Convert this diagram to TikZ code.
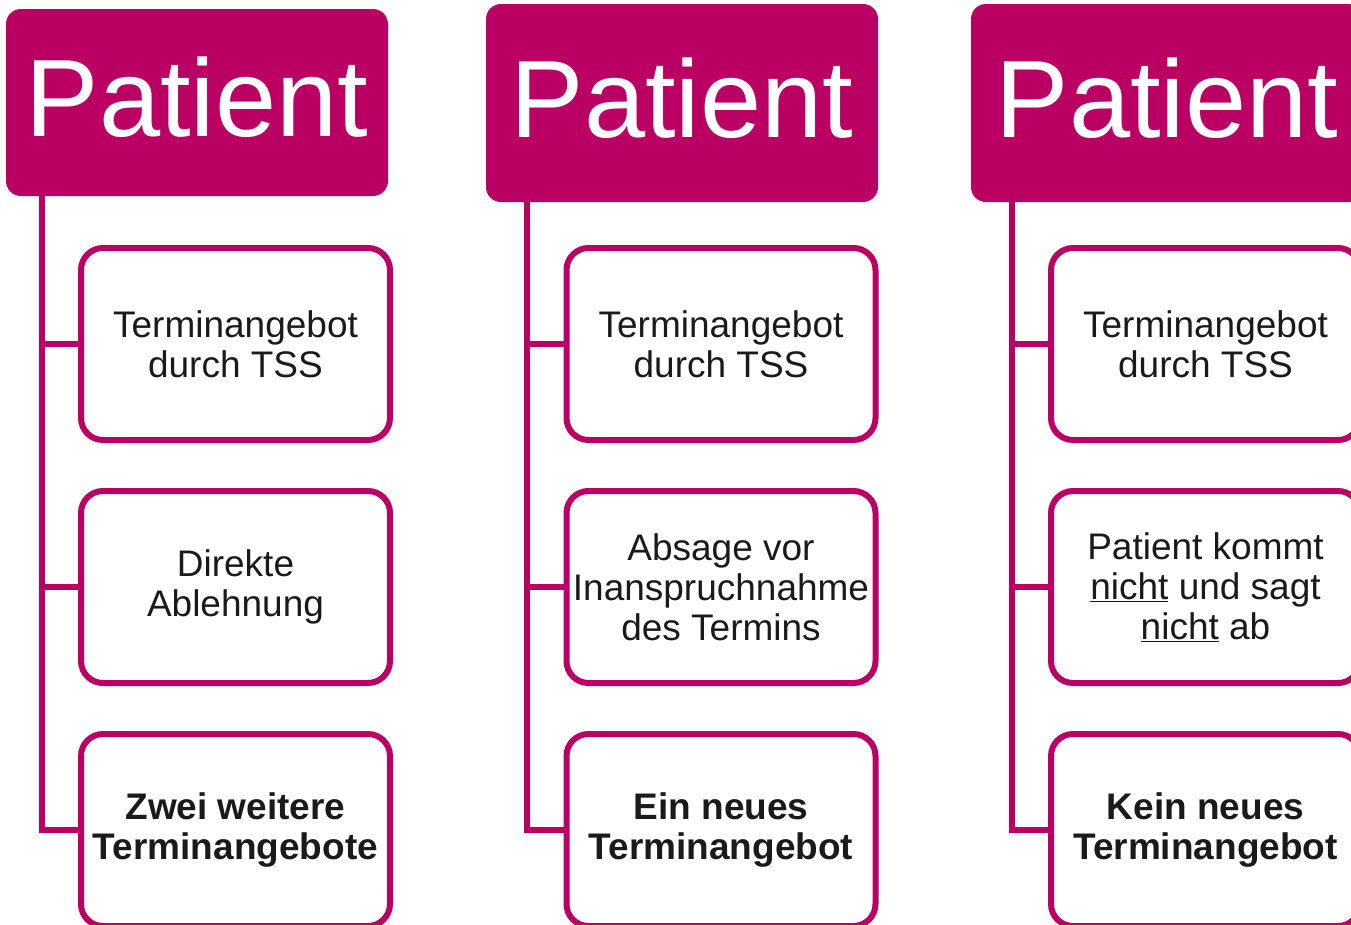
\documentclass[tikz,border=0pt]{standalone}
\usepackage{fontspec}
\setmainfont{Liberation Sans}
\usepackage{xcolor}
\definecolor{tssmag}{RGB}{186,0,98}
\definecolor{txtdark}{RGB}{26,26,26}

\begin{document}
\begin{tikzpicture}[x=1pt,y=-1pt,
  hd/.style={rectangle, rounded corners=15pt, fill=tssmag, text=white, inner sep=0pt,
    font=\fontsize{110pt}{120pt}\selectfont, text depth=11pt},
  item/.style={rectangle, rounded corners=22pt, draw=tssmag, line width=6pt, inner sep=0pt,
    minimum width=309pt, minimum height=192pt, align=center, text=txtdark,
    font=\fontsize{37pt}{40pt}\selectfont},
  conn/.style={draw=tssmag, line width=6pt}]

\useasboundingbox (0,0) rectangle (1351,924);
\clip (0,0) rectangle (1351,924);

% First column (two further offers)
\node[hd, minimum width=382pt, minimum height=187pt] (hdA) at (197,102.5) {Patient};
\node[item] (bA1) at (235.5,344) {Terminangebot\\durch TSS};
\node[item] (bA2) at (235.5,587) {Direkte\\Ablehnung};
\node[item] (bA3) at (235.5,830) {\textbf{Zwei weitere}\\\textbf{Terminangebote}};
\coordinate (tA) at (42,196);
\draw[conn] (tA) |- (bA1.west);
\draw[conn] (tA) |- (bA2.west);
\draw[conn] (tA) |- (bA3.west);

% Second column (one new offer)
\node[hd, minimum width=392pt, minimum height=198pt] (hdB) at (682,103) {Patient};
\node[item] (bB1) at (721,344) {Terminangebot\\durch TSS};
\node[item] (bB2) at (721,587) {Absage vor\\Inanspruchnahme\\des Termins};
\node[item] (bB3) at (721,830) {\textbf{Ein neues}\\\textbf{Terminangebot}};
\coordinate (tB) at (527,202);
\draw[conn] (tB) |- (bB1.west);
\draw[conn] (tB) |- (bB2.west);
\draw[conn] (tB) |- (bB3.west);

% Third column (no new offer, cut off at the right)
\node[hd, minimum width=392pt, minimum height=198pt] (hdC) at (1167,103) {Patient};
\node[item] (bC1) at (1205.5,344) {Terminangebot\\durch TSS};
\node[item] (bC2) at (1205.5,587) {Patient kommt\\\underline{nicht} und sagt\\\underline{nicht} ab};
\node[item] (bC3) at (1205.5,830) {\textbf{Kein neues}\\\textbf{Terminangebot}};
\coordinate (tC) at (1012,202);
\draw[conn] (tC) |- (bC1.west);
\draw[conn] (tC) |- (bC2.west);
\draw[conn] (tC) |- (bC3.west);

\end{tikzpicture}
\end{document}
